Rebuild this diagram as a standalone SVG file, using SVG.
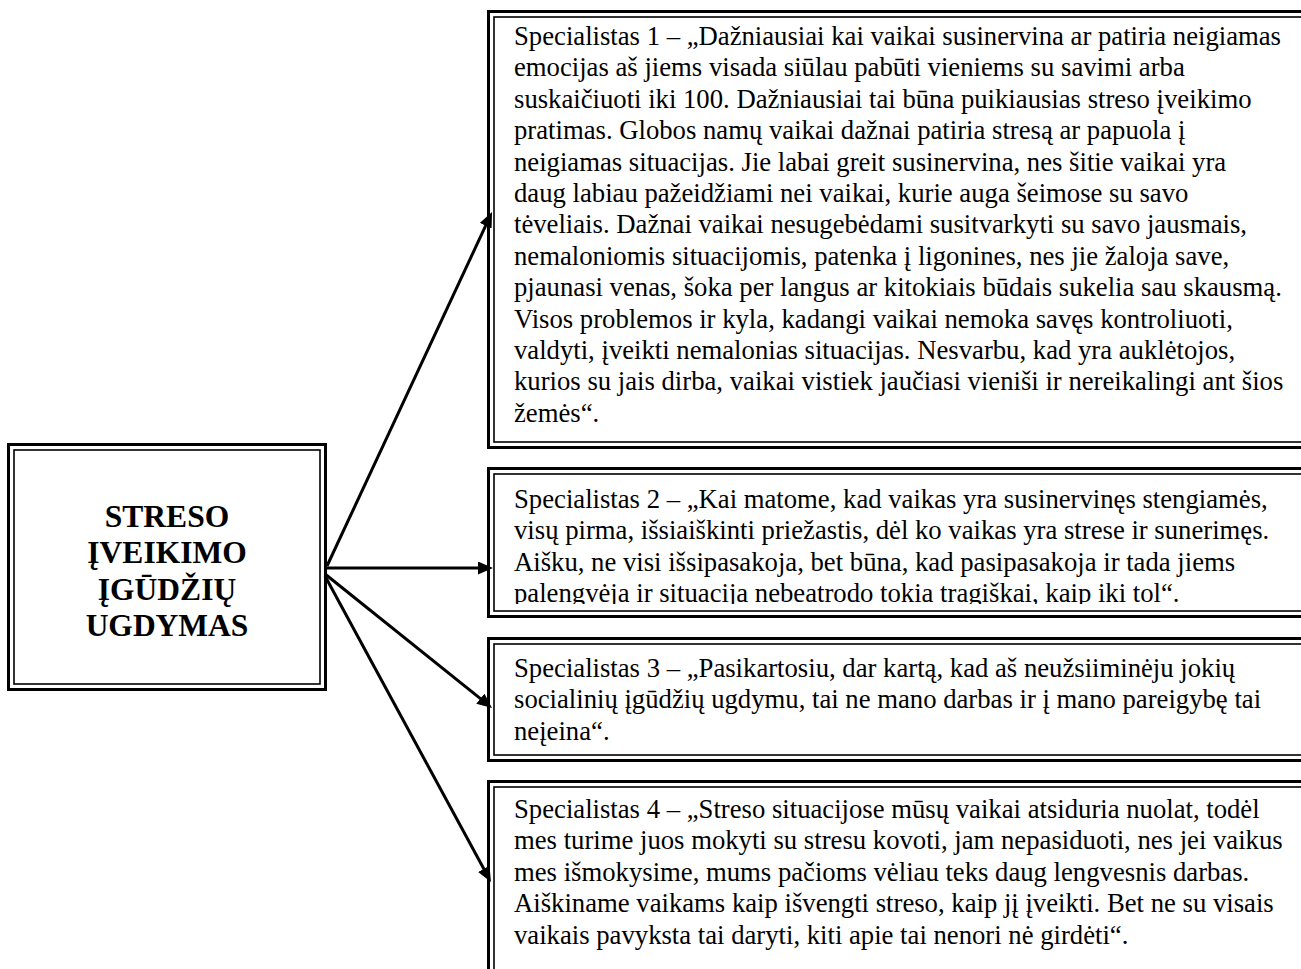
<svg xmlns="http://www.w3.org/2000/svg" width="1301" height="969" viewBox="0 0 1301 969">
<style>
.outer{fill:none;stroke:#000;stroke-width:3}
.inner{fill:none;stroke:#000;stroke-width:1.6}
.t{font-family:"Liberation Serif","Times New Roman",serif;font-size:26.7px;fill:#000}
.title{font-family:"Liberation Serif","Times New Roman",serif;font-size:31.5px;font-weight:bold;fill:#000;text-anchor:middle}
.conn{stroke:#000;stroke-width:3;fill:none;marker-end:url(#ah)}
</style>
<defs>
<marker id="ah" markerUnits="userSpaceOnUse" markerWidth="16" markerHeight="14" refX="5" refY="6.5" orient="auto">
<path d="M0,0 L15,6.5 L0,13 z" fill="#000"/>
</marker>
<clipPath id="clip2"><rect x="487" y="468" width="830" height="136"/></clipPath>
</defs>
<rect x="0" y="0" width="1301" height="969" fill="#fff"/>

<g id="node-main">
<rect class="outer" x="8.5" y="444.5" width="317" height="245"/>
<rect class="inner" x="14" y="450" width="306" height="234"/>
<text class="title" x="167" y="527">STRESO</text>
<text class="title" x="167" y="563">ĮVEIKIMO</text>
<text class="title" x="167" y="600">ĮGŪDŽIŲ</text>
<text class="title" x="167" y="636">UGDYMAS</text>
</g>

<g id="node-s1">
<rect class="outer" x="488.5" y="11.5" width="840" height="436"/>
<rect class="inner" x="494" y="17" width="840" height="425"/>
<text class="t" x="514" y="45">Specialistas 1 – „Dažniausiai kai vaikai susinervina ar patiria neigiamas</text>
<text class="t" x="514" y="76.4">emocijas aš jiems visada siūlau pabūti vieniems su savimi arba</text>
<text class="t" x="514" y="107.8">suskaičiuoti iki 100. Dažniausiai tai būna puikiausias streso įveikimo</text>
<text class="t" x="514" y="139.2">pratimas. Globos namų vaikai dažnai patiria stresą ar papuola į</text>
<text class="t" x="514" y="170.6">neigiamas situacijas. Jie labai greit susinervina, nes šitie vaikai yra</text>
<text class="t" x="514" y="202">daug labiau pažeidžiami nei vaikai, kurie auga šeimose su savo</text>
<text class="t" x="514" y="233.4">tėveliais. Dažnai vaikai nesugebėdami susitvarkyti su savo jausmais,</text>
<text class="t" x="514" y="264.8">nemaloniomis situacijomis, patenka į ligonines, nes jie žaloja save,</text>
<text class="t" x="514" y="296.2">pjaunasi venas, šoka per langus ar kitokiais būdais sukelia sau skausmą.</text>
<text class="t" x="514" y="327.6">Visos problemos ir kyla, kadangi vaikai nemoka savęs kontroliuoti,</text>
<text class="t" x="514" y="359">valdyti, įveikti nemalonias situacijas. Nesvarbu, kad yra auklėtojos,</text>
<text class="t" x="514" y="390.4">kurios su jais dirba, vaikai vistiek jaučiasi vieniši ir nereikalingi ant šios</text>
<text class="t" x="514" y="421.8">žemės“.</text>
</g>

<g id="node-s2">
<rect class="outer" x="488.5" y="468.5" width="840" height="148"/>
<rect class="inner" x="494" y="474" width="840" height="137"/>
<g clip-path="url(#clip2)">
<text class="t" x="514" y="508">Specialistas 2 – „Kai matome, kad vaikas yra susinervinęs stengiamės,</text>
<text class="t" x="514" y="539.4">visų pirma, išsiaiškinti priežastis, dėl ko vaikas yra strese ir sunerimęs.</text>
<text class="t" x="514" y="570.8">Aišku, ne visi išsipasakoja, bet būna, kad pasipasakoja ir tada jiems</text>
<text class="t" x="514" y="602.2">palengvėja ir situacija nebeatrodo tokia tragiškai, kaip iki tol“.</text>
</g>
</g>

<g id="node-s3">
<rect class="outer" x="488.5" y="638.5" width="840" height="122"/>
<rect class="inner" x="494" y="644" width="840" height="111"/>
<text class="t" x="514" y="677">Specialistas 3 – „Pasikartosiu, dar kartą, kad aš neužsiiminėju jokių</text>
<text class="t" x="514" y="708.4">socialinių įgūdžių ugdymu, tai ne mano darbas ir į mano pareigybę tai</text>
<text class="t" x="514" y="739.8">neįeina“.</text>
</g>

<g id="node-s4">
<rect class="outer" x="488.5" y="781.5" width="840" height="240"/>
<rect class="inner" x="494" y="787" width="840" height="240"/>
<text class="t" x="514" y="818">Specialistas 4 – „Streso situacijose mūsų vaikai atsiduria nuolat, todėl</text>
<text class="t" x="514" y="849.4">mes turime juos mokyti su stresu kovoti, jam nepasiduoti, nes jei vaikus</text>
<text class="t" x="514" y="880.8">mes išmokysime, mums pačioms vėliau teks daug lengvesnis darbas.</text>
<text class="t" x="514" y="912.2">Aiškiname vaikams kaip išvengti streso, kaip jį įveikti. Bet ne su visais</text>
<text class="t" x="514" y="943.6">vaikais pavyksta tai daryti, kiti apie tai nenori nė girdėti“.</text>
</g>

<g id="connectors">
<line class="conn" x1="327" y1="566" x2="487.8" y2="221.1"/>
<line class="conn" x1="327" y1="568" x2="483" y2="568"/>
<line class="conn" x1="325" y1="574" x2="484.2" y2="701.7"/>
<line class="conn" x1="325" y1="576" x2="486.2" y2="873.2"/>
</g>
</svg>
